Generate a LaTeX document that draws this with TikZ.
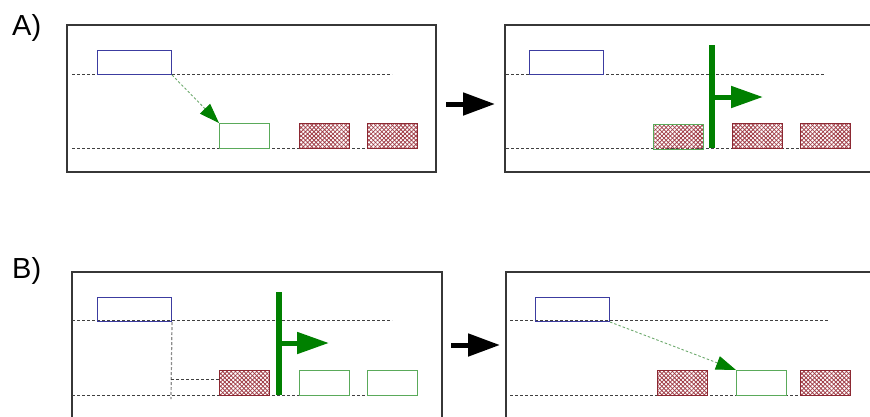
\documentclass[tikz,border=0pt]{standalone}
\usepackage{fontspec}
\setmainfont{Liberation Sans}
\usetikzlibrary{arrows.meta,patterns.meta}

\definecolor{framegray}{RGB}{55,55,55}
\definecolor{boxblue}{RGB}{60,60,160}
\definecolor{boxgreen}{RGB}{90,170,90}
\definecolor{flaggreen}{RGB}{0,128,0}
\definecolor{boxred}{RGB}{140,40,50}
\definecolor{hatchred}{RGB}{160,60,70}
\definecolor{linkgreen}{RGB}{110,170,110}

\tikzset{
  frame/.style={draw=framegray, line width=1.2pt},
  guide/.style={draw=black!75, line width=0.9pt, dash pattern=on 3pt off 2pt},
  guidegray/.style={draw=black!45, line width=1.2pt, dash pattern=on 3pt off 2pt},
  slot/.style={rectangle, inner sep=0pt, anchor=north west,
    minimum width=50pt, minimum height=25pt, line width=1pt},
  bluebox/.style={slot, draw=boxblue, minimum width=74pt, minimum height=24pt},
  greenbox/.style={slot, draw=boxgreen},
  mesh/.style={
    preaction={pattern={Lines[angle=45,distance=3pt,line width=0.8pt]}, pattern color=hatchred},
    preaction={pattern={Lines[angle=-45,distance=3pt,line width=0.8pt]}, pattern color=hatchred}},
  redbox/.style={slot, draw=boxred, mesh},
  mixbox/.style={slot, draw=boxgreen, mesh},
  pole/.style={draw=flaggreen, line width=6pt},
  flag/.style={draw=flaggreen, fill=flaggreen, line width=5pt,
    -{Triangle[length=32pt,width=21pt]}},
  stepto/.style={draw=black, fill=black, line width=5pt,
    -{Triangle[length=32pt,width=22pt]}},
  link/.style={draw=linkgreen, line width=0.9pt, dash pattern=on 2.5pt off 2pt,
    -{Triangle[length=20pt,width=14pt,fill=flaggreen,color=flaggreen]}},
  tag/.style={anchor=base west, inner sep=0pt, font=\fontsize{29}{29}\selectfont}
}

\begin{document}
\begin{tikzpicture}[x=1pt,y=-1pt]
\clip (0,0) rectangle (870,416);
\fill[white] (0,0) rectangle (870,416);

% ---------------- row A ----------------
\node[tag] (labelA) at (12,35) {A)};

% left panel
\draw[frame] (67,25) rectangle (436,172);
\draw[guide] (72,74) -- (392,74);
\draw[guide] (72,148) -- (392,148);
\node[bluebox] (blueA1) at (97,50) {};
\node[greenbox] (greenA1) at (219,123) {};
\node[redbox] (redA1a) at (299,123) {};
\node[redbox] (redA1b) at (367,123) {};
\draw[link] (blueA1.south east) -- (greenA1.north west);

% transition
\coordinate (stepAfrom) at (446,104);
\coordinate (stepAto) at (495,104);
\draw[stepto] (stepAfrom) -- (stepAto);

% right panel
\draw[frame] (505,25) rectangle (880,172);
\draw[guide] (506,74) -- (825,74);
\draw[guide] (506,148) -- (825,148);
\node[bluebox] (blueA2) at (529,50) {};
\node[mixbox] (mixA2) at (653,124) {};
\node[redbox] (redA2a) at (732,123) {};
\node[redbox] (redA2b) at (800,123) {};
\coordinate (poleAtop) at (712,45);
\coordinate (poleAbot) at (712,148);
\coordinate (flagAfrom) at (712,97);
\coordinate (flagAto) at (763,97);
\draw[pole] (poleAtop) -- (poleAbot);
\draw[flag] (flagAfrom) -- (flagAto);

% ---------------- row B ----------------
\node[tag] (labelB) at (12,278) {B)};

% left panel
\draw[frame] (72,272) rectangle (442,430);
\draw[guide] (72,320) -- (392,320);
\draw[guide] (72,395) -- (397,395);
\node[bluebox] (blueB1) at (97,297) {};
\node[redbox] (redB1) at (219,370) {};
\node[greenbox] (greenB1a) at (299,370) {};
\node[greenbox] (greenB1b) at (367,370) {};
\coordinate (dropB) at (171,399);
\coordinate (kneeB) at (171,379);
\draw[guidegray] (blueB1.south east) -- (dropB);
\draw[guide] (kneeB) -- (kneeB -| redB1.west);
\coordinate (poleBtop) at (279,292);
\coordinate (poleBbot) at (279,395);
\coordinate (flagBfrom) at (279,343);
\coordinate (flagBto) at (329,343);
\draw[pole] (poleBtop) -- (poleBbot);
\draw[flag] (flagBfrom) -- (flagBto);

% transition
\coordinate (stepBfrom) at (451,345);
\coordinate (stepBto) at (500,345);
\draw[stepto] (stepBfrom) -- (stepBto);

% right panel
\draw[frame] (506,272) rectangle (880,430);
\draw[guide] (510,320) -- (829,320);
\draw[guide] (510,395) -- (829,395);
\node[bluebox] (blueB2) at (535,297) {};
\node[redbox] (redB2a) at (657,370) {};
\node[greenbox] (greenB2) at (736,370) {};
\node[redbox] (redB2b) at (800,370) {};
\draw[link] (blueB2.south east) -- (greenB2.north west);
\end{tikzpicture}
\end{document}
